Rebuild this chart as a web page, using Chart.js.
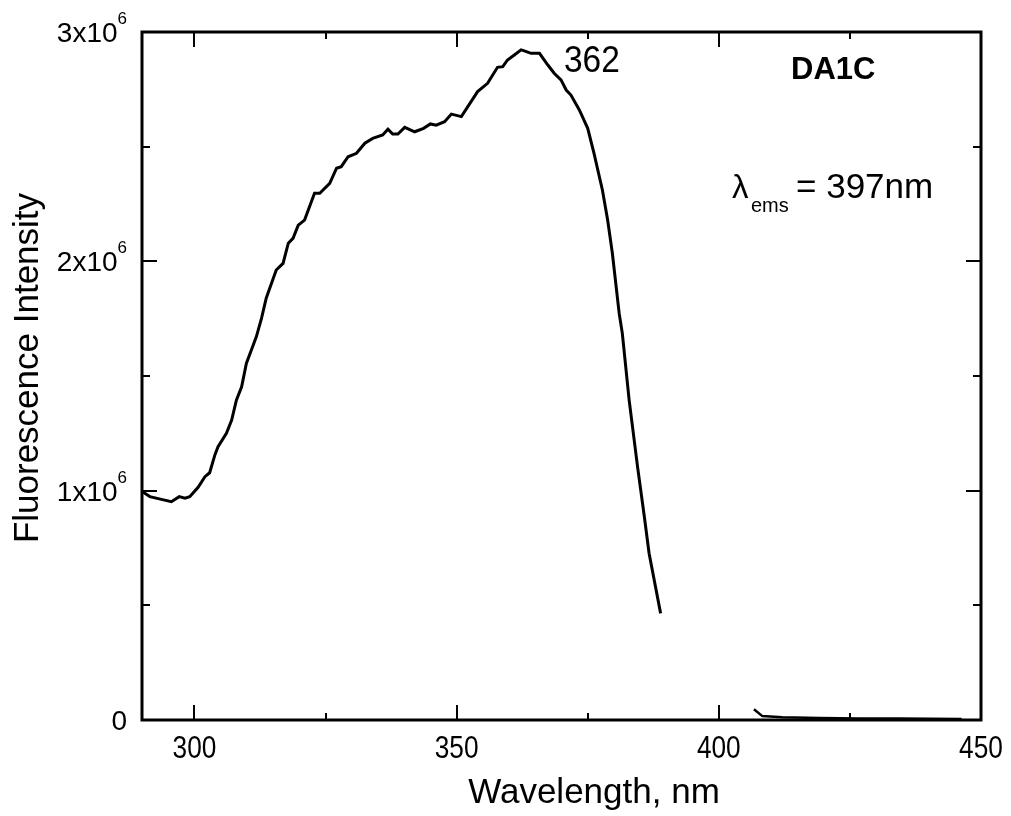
<!DOCTYPE html>
<html><head><meta charset="utf-8">
<script src="https://cdn.jsdelivr.net/npm/chart.js@4.4.0/dist/chart.umd.min.js"></script>
<style>html,body{margin:0;padding:0;background:#fff;overflow:hidden}</style>
</head><body>
<canvas id="c" width="1011" height="816"></canvas>
<script>
// ---- data (intensity in units of 10^6) ----
const wavelengthA = [290.0,291.5,293.5,295.6,297.1,298.2,299.1,300.7,302.0,302.9,303.9,304.5,306.1,307.1,308.0,309.0,309.9,311.8,312.8,313.7,315.6,316.9,317.9,318.8,319.8,321.0,322.9,323.9,325.8,327.1,328.0,329.3,330.9,332.5,334.0,335.9,336.9,337.8,338.8,340.1,342.0,343.7,345.0,346.1,347.7,349.0,350.9,354.0,355.9,357.8,358.8,359.7,361.0,362.3,362.9,364.2,365.8,367.4,368.6,369.9,370.9,371.8,373.4,375.0,376.2,377.8,378.8,379.7,381.0,381.6,382.9,384.5,385.8,386.7,388.9];
const intensityA = [0.996,0.974,0.963,0.952,0.974,0.967,0.974,1.015,1.061,1.078,1.156,1.192,1.250,1.308,1.395,1.453,1.555,1.671,1.752,1.840,1.962,1.991,2.079,2.100,2.158,2.180,2.297,2.297,2.340,2.406,2.413,2.456,2.471,2.515,2.536,2.551,2.576,2.555,2.555,2.584,2.565,2.580,2.599,2.594,2.609,2.642,2.631,2.740,2.776,2.846,2.849,2.878,2.900,2.922,2.918,2.907,2.907,2.856,2.820,2.791,2.747,2.725,2.660,2.580,2.471,2.311,2.180,2.035,1.773,1.686,1.395,1.105,0.886,0.727,0.465];
const wavelengthB = [406.7,408.3,412.1,419.1,426.7,434.3,446.3];
const intensityB = [0.047,0.017,0.012,0.009,0.007,0.006,0.004];

const xTickValues = [300, 350, 400, 450];
const xTickLabels = ['300', '350', '400', '450'];
const yTickValues = [0, 1, 2, 3];
const yTickBase = ['0', '1x10', '2x10', '3x10'];
const yTickExp = ['', '6', '6', '6'];
const xMinorStep = 25;
const yMinorStep = 0.5;
const xTitle = 'Wavelength, nm';
const yTitle = 'Fluorescence Intensity';
const peakLabel = '362';
const sampleLabel = 'DA1C';

const FONT = '"Liberation Sans", Arial, Helvetica, sans-serif';

function toPoints(xs, ys) { return xs.map((v, i) => ({x: v, y: ys[i]})); }

function txt(ctx, s, x, y, size, align, weight, sx) {
  ctx.save();
  ctx.font = (weight || 'normal') + ' ' + size + 'px ' + FONT;
  ctx.textAlign = align || 'left';
  ctx.textBaseline = 'alphabetic';
  ctx.translate(x, y);
  ctx.scale(sx || 1, 1);
  ctx.fillText(s, 0, 0);
  ctx.restore();
}

const framePlugin = {
  id: 'frame',
  afterDatasetsDraw(chart) {
    const {ctx, chartArea: a, scales: {x, y}} = chart;
    ctx.save();
    ctx.fillStyle = '#000';
    ctx.strokeStyle = '#000';
    // ticks (inward, on all four sides)
    ctx.lineWidth = 2;
    ctx.beginPath();
    for (let v = Math.ceil(x.min / xMinorStep) * xMinorStep; v <= x.max + 1e-9; v += xMinorStep) {
      const px = Math.round(x.getPixelForValue(v));
      const len = (v % 50 === 0) ? 15 : 7;
      ctx.moveTo(px, a.bottom); ctx.lineTo(px, a.bottom - len);
      ctx.moveTo(px, a.top); ctx.lineTo(px, a.top + len);
    }
    for (let v = 0; v <= y.max + 1e-9; v += yMinorStep) {
      const py = Math.round(y.getPixelForValue(v));
      const len = (Math.abs(v - Math.round(v)) < 1e-9) ? 15 : 8;
      ctx.moveTo(a.left, py); ctx.lineTo(a.left + len, py);
      ctx.moveTo(a.right, py); ctx.lineTo(a.right - len, py);
    }
    ctx.stroke();
    // frame
    ctx.lineWidth = 3;
    ctx.strokeRect(a.left, a.top, a.right - a.left, a.bottom - a.top);

    // x tick labels
    xTickValues.forEach((v, i) => {
      txt(ctx, xTickLabels[i], x.getPixelForValue(v), a.bottom + 38, 32, 'center', 'normal', 0.82);
    });
    // y tick labels with superscript exponent
    yTickValues.forEach((v, i) => {
      const py = y.getPixelForValue(v);
      const right = a.left - 15;
      if (yTickExp[i]) {
        ctx.font = '17px ' + FONT;
        const ew = ctx.measureText(yTickExp[i]).width;
        txt(ctx, yTickExp[i], right - ew, py - 8, 17, 'left');
        txt(ctx, yTickBase[i], right - ew, py + 10, 28, 'right');
      } else {
        txt(ctx, yTickBase[i], right, py + 10, 28, 'right');
      }
    });
    // axis titles
    txt(ctx, xTitle, 594, 803, 35, 'center');
    ctx.save();
    ctx.translate(38, 368);
    ctx.rotate(-Math.PI / 2);
    txt(ctx, yTitle, 0, 0, 35, 'center');
    ctx.restore();

    // annotations
    txt(ctx, peakLabel, 564, 72, 36, 'left', 'normal', 0.93);
    txt(ctx, sampleLabel, 791, 79, 31, 'left', 'bold');
    txt(ctx, '\u03bb', 732, 198, 33, 'left');
    txt(ctx, 'ems', 751, 212, 20, 'left');
    txt(ctx, '= 397nm', 796, 198, 35, 'left');
    ctx.restore();
  }
};

new Chart(document.getElementById('c'), {
  type: 'scatter',
  data: {
    datasets: [
      { data: toPoints(wavelengthA, intensityA), showLine: true, borderColor: '#000', borderWidth: 3, pointRadius: 0, tension: 0, fill: false },
      { data: toPoints(wavelengthB, intensityB), showLine: true, borderColor: '#000', borderWidth: 2.5, pointRadius: 0, tension: 0, fill: false }
    ]
  },
  options: {
    responsive: false,
    animation: false,
    events: [],
    layout: { padding: { left: 142, right: 30, top: 32, bottom: 96 } },
    plugins: { legend: { display: false }, tooltip: { enabled: false } },
    scales: {
      x: { type: 'linear', min: 290, max: 450, display: false },
      y: { type: 'linear', min: 0, max: 3, display: false }
    }
  },
  plugins: [framePlugin]
});
</script>
</body></html>
